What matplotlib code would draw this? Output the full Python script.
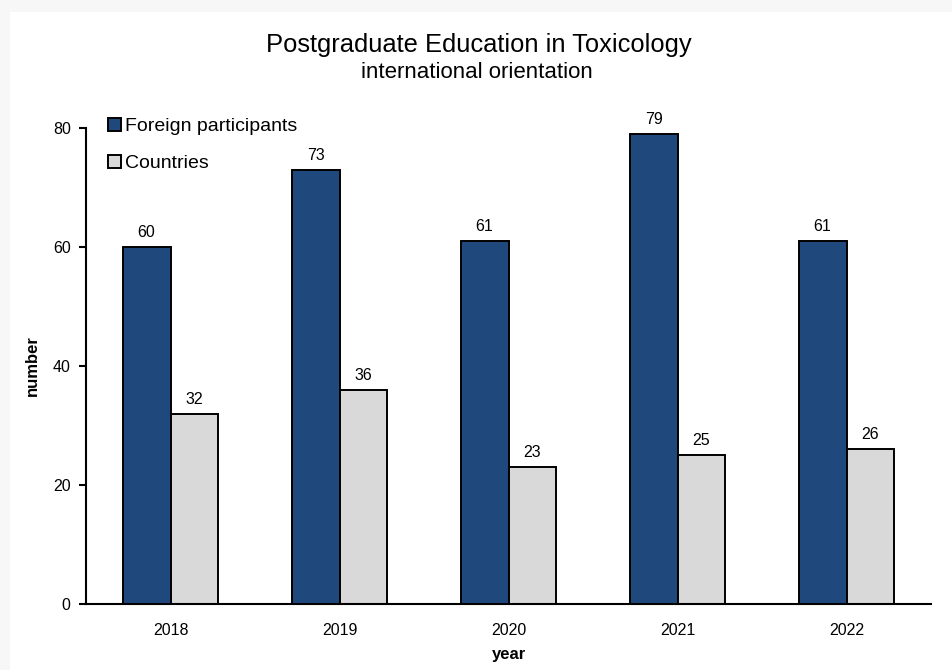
import numpy as np
import matplotlib.pyplot as plt
from matplotlib.patches import Patch, Rectangle

plt.rcParams['font.family'] = ['Liberation Sans', 'DejaVu Sans']

# data
years = ['2018', '2019', '2020', '2021', '2022']
foreign = [60, 73, 61, 79, 61]
countries = [32, 36, 23, 25, 26]

blue = '#1f497d'
grey = '#d9d9d9'

fig = plt.figure(figsize=(9.52, 6.70), dpi=100, facecolor='#f7f7f7')
# white chart area
fig.patches.append(Rectangle((10 / 952, 0), 1, 1 - 12 / 670, transform=fig.transFigure,
                             facecolor='white', edgecolor='none', zorder=-10))

ax = fig.add_axes([86 / 952, 66 / 670, 845 / 952, 476 / 670])
ax.set_facecolor('white')

x = np.arange(len(years))
w = 0.284
b1 = ax.bar(x - w / 2, foreign, w, color=blue, edgecolor='black', linewidth=1.4)
b2 = ax.bar(x + w / 2, countries, w, color=grey, edgecolor='black', linewidth=1.4)

for bars, vals in ((b1, foreign), (b2, countries)):
    for r, v in zip(bars, vals):
        ax.annotate(str(v), (r.get_x() + r.get_width() / 2, v), xytext=(0, 5),
                    textcoords='offset points', ha='center', va='bottom', fontsize=11.5)

ax.set_xlim(-0.5, 4.5)
ax.set_ylim(0, 80)
ax.set_yticks([0, 20, 40, 60, 80])
ax.set_xticks(x)
ax.set_xticklabels(years)
ax.tick_params(axis='x', length=0, pad=14, labelsize=11.5)
ax.tick_params(axis='y', length=5, width=1.5, direction='out', pad=6, labelsize=11.5)
for s in ('top', 'right'):
    ax.spines[s].set_visible(False)
for s in ('left', 'bottom'):
    ax.spines[s].set_linewidth(1.5)

ax.set_xlabel('year', fontsize=12, fontweight='bold', labelpad=6)
ax.set_ylabel('number', fontsize=12, fontweight='bold', labelpad=9)

fig.text(479 / 952, 1 - 45 / 670, 'Postgraduate Education in Toxicology',
         ha='center', va='center', fontsize=18.4)
fig.text(477 / 952, 1 - 72 / 670, 'international orientation',
         ha='center', va='center', fontsize=16)

handles = [Patch(facecolor=blue, edgecolor='black', linewidth=1.4),
           Patch(facecolor=grey, edgecolor='black', linewidth=1.4)]
ax.legend(handles, ['Foreign participants', 'Countries'], loc='upper left',
          bbox_to_anchor=(108 / 952, 1 - 118 / 670), bbox_transform=fig.transFigure,
          frameon=False, fontsize=14, handlelength=0.67, handleheight=0.67,
          handletextpad=0.2, labelspacing=1.0, borderaxespad=0, borderpad=0)

fig.savefig('out.png', dpi=100, facecolor=fig.get_facecolor())
